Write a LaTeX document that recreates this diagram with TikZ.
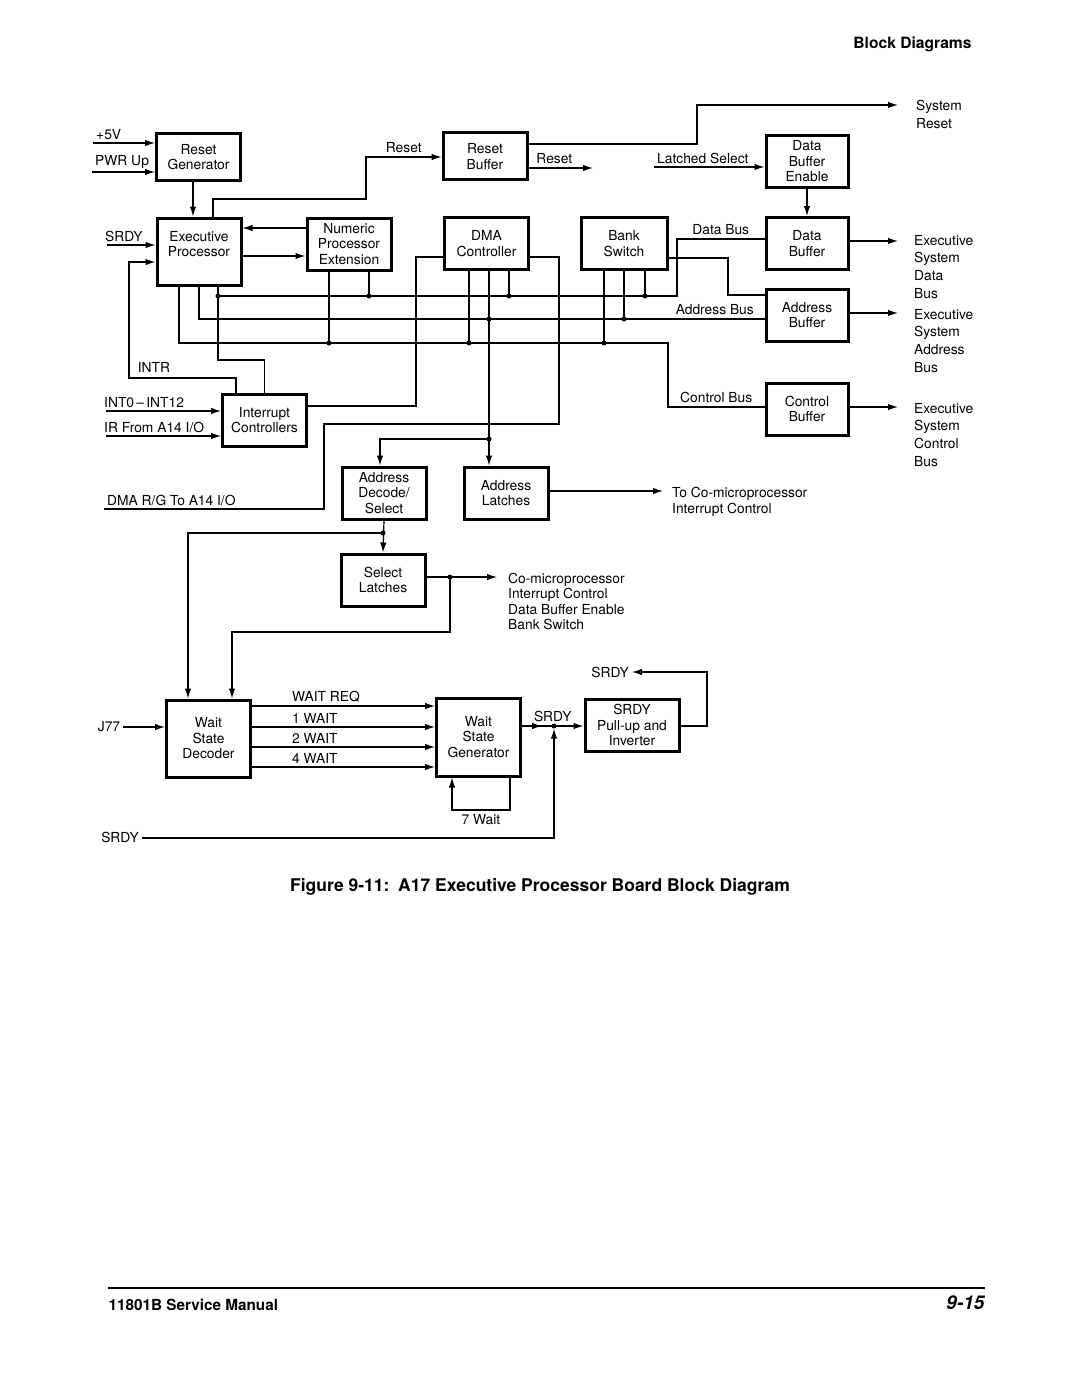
\documentclass[tikz,border=0pt]{standalone}
\usepackage{fontspec}
\setmainfont{TeX Gyre Heros}
\usetikzlibrary{arrows.meta}

\begin{document}
\begin{tikzpicture}[
    x=1pt, y=-1pt,
    every node/.style={font=\fontsize{13.8}{15.5}\selectfont},
    blk/.style={draw, line width=3pt, align=center, inner sep=0pt,
        minimum width=84, minimum height=52},
    lbl/.style={inner xsep=3pt, inner ysep=3pt},
    outlbl/.style={align=left, inner sep=2pt, font=\fontsize{13.8}{17.7}\selectfont},
    sig/.style={line width=1.2pt},
    arr/.style={sig, -{Latex[length=10pt,width=6.5pt]}},
    bus/.style={line width=2.8pt},
    dot/.style={circle, fill, inner sep=0pt, minimum size=5pt}
]
\useasboundingbox (0,0) rectangle (1080,1399);

% Blocks
\node[blk, minimum height=47] (rstgen) at (198.5,157) {Reset\\Generator};
\node[blk, minimum height=67] (execp) at (199,251.5) {Executive\\Processor\\\mbox{}};
\node[blk] (npe) at (349,244) {Numeric\\Processor\\Extension};
\node[blk, minimum height=47] (rstbuf) at (485,156.5) {Reset\\Buffer};
\node[blk] (dma) at (486.5,243.5) {DMA\\Controller};
\node[blk, minimum width=86] (bank) at (624,243.5) {Bank\\Switch};
\node[blk, minimum width=82] (dbe) at (807,161.5) {Data\\Buffer\\Enable};
\node[blk, minimum width=82] (dbuf) at (807,243.5) {Data\\Buffer};
\node[blk, minimum width=82] (abuf) at (807,315) {Address\\Buffer};
\node[blk, minimum width=82] (cbuf) at (807,409) {Control\\Buffer};
\node[blk] (intc) at (264.5,420) {Interrupt\\Controllers};
\node[blk] (adec) at (384,493) {Address\\Decode/\\Select};
\node[blk] (alatch) at (506,493) {Address\\Latches};
\node[blk] (slatch) at (383,580) {Select\\Latches};
\node[blk, minimum height=77] (wsd) at (208.5,738.5) {Wait\\State\\Decoder};
\node[blk, minimum height=78] (wsg) at (478.5,737) {Wait\\State\\Generator};
\node[blk, minimum width=94] (pullup) at (632,725) {SRDY\\Pull-up and\\Inverter};

% Labels
\node[lbl, anchor=south west] (l5v) at (93,143) {+5V};
\node[lbl, anchor=south west] (lpwr) at (92,172) {PWR Up};
\node[lbl, anchor=south west] (srdyin) at (102,245) {SRDY};
\node (intr) at (154,367) {INTR};
\node[lbl, anchor=south west] (lint) at (101,411) {INT0\,–\,INT12};
\node[lbl, anchor=south west] (lir) at (101,436) {IR From A14 I/O};
\node[lbl, anchor=south west] (dmarg) at (104,509) {DMA R/G To A14 I/O};
\node[lbl, anchor=south west] (latsel) at (654,167) {Latched Select};
\node[lbl] (j77) at (109,727) {J77};
\node[lbl] (srdyb) at (120,837) {SRDY};
\node[lbl, anchor=east] (srdytop) at (632,672) {SRDY};
\node[outlbl, anchor=north west] (sysrst) at (914,98) {System\\Reset};
\node[outlbl, anchor=north west] (exdata) at (912,233) {Executive\\System\\Data\\Bus};
\node[outlbl, anchor=north west] (exaddr) at (912,307) {Executive\\System\\Address\\Bus};
\node[outlbl, anchor=north west] (exctrl) at (912,401) {Executive\\System\\Control\\Bus};
\node[outlbl, anchor=north west, font=\fontsize{13.8}{16}\selectfont] (copint) at (670,485)
    {To Co-microprocessor\\Interrupt Control};
\node[outlbl, anchor=north west, font=\fontsize{13.8}{15.4}\selectfont] (colist) at (506,571)
    {Co-microprocessor\\Interrupt Control\\Data Buffer Enable\\Bank Switch};
\coordinate (rstout) at (593,168);

% Junction dots
\node[dot] (dd1) at (218,296) {};
\node[dot] (dd2) at (369,296) {};
\node[dot] (dd3) at (509,296) {};
\node[dot] (dd4) at (645,296) {};
\node[dot] (ad1) at (489,319) {};
\node[dot] (ad2) at (624,319) {};
\node[dot] (cd1) at (329,343) {};
\node[dot] (cd2) at (469,343) {};
\node[dot] (cd3) at (604,343) {};
\node[dot] (ld) at (489,439) {};
\node[dot] (sd) at (383,533) {};
\node[dot] (sld) at (450,577) {};
\node[dot] (srd) at (554,726) {};

% Reset path
\draw[arr] (l5v.south west) -- (rstgen.west |- l5v.south west);
\draw[arr] (lpwr.south west) -- (rstgen.west |- lpwr.south west);
\draw[arr] (rstgen.south -| 193,0) -- (execp.north -| 193,0);
\draw[arr] (execp.north -| 213,0) |- (366,199) |- (rstbuf.west |- 0,157) node[pos=0.75, above] {Reset};
\draw[arr, shorten >=16pt] (rstbuf.east |- 0,144) -| (697,105) -- (sysrst.west |- 0,105);
\draw[arr] (rstbuf.east |- 0,168) -- (rstout) node[pos=0.4, above] {Reset};
\draw[arr] (latsel.south west) -- (dbe.west |- latsel.south west);
\draw[arr] (dbe.south) -- (dbuf.north);

% Processor inputs
\draw[arr] ([xshift=5pt]srdyin.south west) -- (execp.west |- srdyin.south west);
\draw[arr] (intc.north -| 236,0) |- (129,378) |- (execp.west |- 0,262);
\draw[arr] (npe.west |- 0,228) -- (execp.east |- 0,228);
\draw[arr] (execp.east |- 0,256) -- (npe.west |- 0,256);

% Buses
\draw[bus] (dd1.center) -- (677,296) |- (dbuf.west |- 0,239) node[pos=0.75, above] {Data Bus};
\draw[bus] (execp.south -| 199,0) |- (abuf.west |- 0,319) node[pos=1, above left, xshift=-6pt] {Address Bus};
\draw[bus] (execp.south -| 179,0) |- (668,343) |- (cbuf.west |- 0,407) node[pos=0.75, above] {Control Bus};
\draw[sig] (execp.south -| 218,0) -- (218,360) -| (intc.north);
\draw[sig] (npe.south -| 329,0) -- (cd1.center);
\draw[sig] (npe.south -| 369,0) -- (dd2.center);
\draw[sig] (dma.south -| 469,0) -- (cd2.center);
\draw[sig] (dma.south -| 509,0) -- (dd3.center);
\draw[sig] (bank.south -| 604,0) -- (cd3.center);
\draw[sig] (bank.south -| 624,0) -- (ad2.center);
\draw[sig] (bank.south -| 645,0) -- (dd4.center);
\draw[sig] (bank.east |- 0,258) -| (728,295) -- (abuf.west |- 0,295);
\draw[sig] (dma.west |- 0,257) -| (416,406) -- (intc.east |- 0,406);
\draw[sig] (dma.east |- 0,257) -| (559,424) -| (324,509) -- (dmarg.south west);
\draw[arr] (dma.south -| 489,0) -- (alatch.north -| 489,0);
\draw[arr] (ld.center) -| ([xshift=-4pt]adec.north);

% Outputs
\draw[arr, shorten >=14pt] (dbuf.east |- 0,241) -- (exdata.west |- 0,241);
\draw[arr, shorten >=14pt] (abuf.east |- 0,313) -- (exaddr.west |- 0,313);
\draw[arr, shorten >=14pt] (cbuf.east |- 0,407) -- (exctrl.west |- 0,407);
\draw[arr, shorten >=7pt] (alatch.east |- 0,491) -- (copint.west |- 0,491);

% Interrupt inputs
\draw[arr] ([xshift=5pt]lint.south west) -- (intc.west |- lint.south west);
\draw[arr] ([xshift=5pt]lir.south west) -- (intc.west |- lir.south west);

% Select latches
\draw[arr] (adec.south) -- (slatch.north);
\draw[arr] (sd.center) -| (wsd.north -| 188,0);
\draw[arr, shorten >=9pt] (slatch.east |- 0,577) -- (colist.west |- 0,577);
\draw[arr] (sld.center) |- (232,632) -- (wsd.north -| 232,0);

% Wait states
\draw[arr] (j77.east) -- (wsd.west |- j77);
\draw[arr] (wsd.east |- 0,706) -- (wsg.west |- 0,706) node[pos=0.2, anchor=south west, lbl] {WAIT REQ};
\draw[arr] (wsd.east |- 0,727) -- (wsg.west |- 0,727) node[pos=0.2, anchor=south west, lbl] {1 WAIT};
\draw[arr] (wsd.east |- 0,747) -- (wsg.west |- 0,747) node[pos=0.2, anchor=south west, lbl] {2 WAIT};
\draw[arr] (wsd.east |- 0,767) -- (wsg.west |- 0,767) node[pos=0.2, anchor=south west, lbl] {4 WAIT};
\draw[arr] (wsg.south -| 510,0) |- (452,810) node[pos=0.75, below] {7 Wait} -- (wsg.south -| 452,0);
\draw[arr] (wsg.east |- 0,726) -- ++(20,0);
\draw[arr] (wsg.east |- 0,726) -- (pullup.west |- 0,726) node[midway, above] {SRDY};
\draw[arr] (srdyb.east |- 0,838) -| (srd);
\draw[arr] (pullup.east |- 0,726) -| (707,672) -- (srdytop.east);

% Page text
\node[font=\bfseries\fontsize{15.6}{18}\selectfont, anchor=east] (hdr) at (975,44) {Block Diagrams};
\node[font=\bfseries\fontsize{17.5}{20}\selectfont] (cap) at (540,887)
    {Figure 9-11:\enspace A17 Executive Processor Board Block Diagram};
\draw[line width=1.3pt] (108,1288) -- (985,1288);
\node[font=\bfseries\fontsize{15.3}{18}\selectfont, anchor=west] (ftr) at (105,1305) {11801B Service Manual};
\node[font=\bfseries\itshape\fontsize{19}{22}\selectfont, anchor=east] (pgno) at (988,1303) {9-15};
\end{tikzpicture}
\end{document}
